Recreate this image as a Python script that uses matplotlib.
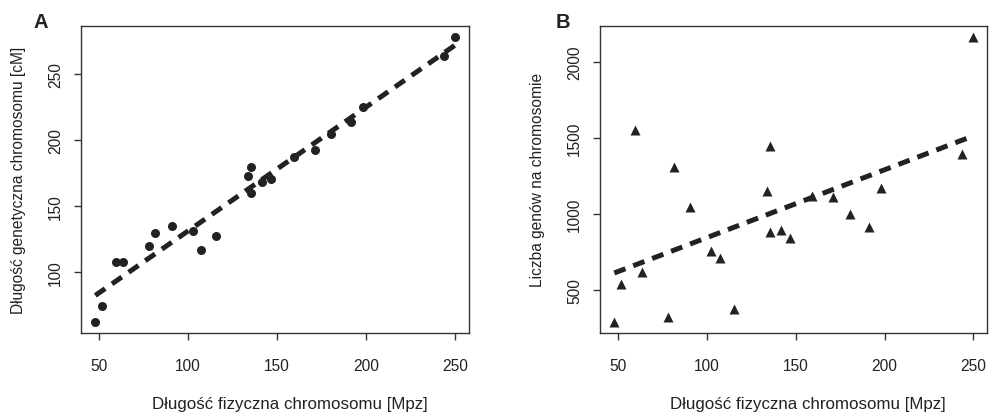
import matplotlib.pyplot as plt
import numpy as np

plt.rcParams["font.family"] = ["Liberation Sans", "DejaVu Sans"]
plt.rcParams["lines.scale_dashes"] = False

# chromosomes 1..22
dl_fiz = np.array([249.5, 243.3, 198.2, 191.2, 180.5, 171.3, 159.2, 146.7, 141.6, 135.5, 135.5,
                   133.9, 115.5, 107.5, 102.7, 90.9, 81.5, 78.4, 59.6, 63.5, 48.1, 51.8])
dl_gen = np.array([278.2, 263.9, 225.3, 214.2, 204.6, 192.7, 187.7, 170.6, 168.5, 160.0, 180.0,
                   173.0, 127.7, 117.0, 131.2, 135.0, 129.7, 120.0, 108.0, 108.0, 62.6, 74.3])
geny = np.array([2162, 1394, 1172, 916, 999, 1111, 1120, 844, 896, 883, 1448,
                 1152, 377, 710, 758, 1045, 1310, 325, 1551, 616, 292, 537])

xticks = [50, 100, 150, 200, 250]
yticks_a = [100, 150, 200, 250]
yticks_b = [500, 1000, 1500, 2000]
xlab = "Długość fizyczna chromosomu [Mpz]"
ylab_a = "Długość genetyczna chromosomu [cM]"
ylab_b = "Liczba genów na chromosomie"

INK = "#222222"
FRAME = "#333333"


def r_lim(v):
    # R-style axis range: data range widened by 4% on each side
    pad = 0.04 * (v.max() - v.min())
    return v.min() - pad, v.max() + pad


def panel(ax, x, y, marker, ms, yticks, ylab, letter, lx):
    ax.plot(x, y, marker, color=INK, ms=ms, ls="none", mec="none")
    k, b = np.polyfit(x, y, 1)
    xs = np.array([x.min(), x.max()])
    ax.plot(xs, k * xs + b, color=INK, lw=3.6, dashes=(8.6, 6.0), dash_capstyle="butt")
    ax.set_xlim(r_lim(x))
    ax.set_ylim(r_lim(y))
    ax.set_xticks(xticks)
    ax.set_yticks(yticks)
    for s in ax.spines.values():
        s.set_color(FRAME)
        s.set_linewidth(1.0)
    ax.tick_params(axis="both", length=5, width=1.0, color=FRAME, labelsize=11.2,
                   labelcolor=INK)
    ax.tick_params(axis="x", pad=13)
    ax.tick_params(axis="y", pad=8)
    for t in ax.get_yticklabels():
        t.set_rotation(90)
        t.set_va("center")
    ax.set_xlabel(xlab, fontsize=12.2, color=INK)
    ax.xaxis.set_label_coords(0.538, -0.228)
    ax.xaxis.label.set_va("center")
    ax.set_ylabel(ylab, fontsize=11.2, color=INK)
    ax.yaxis.set_label_coords(-0.162, 0.5)
    ax.yaxis.label.set_va("center")
    ax.text(lx, 1.015, letter, transform=ax.transAxes, fontsize=14.5, fontweight="bold",
            color=INK, ha="center", va="center")


fig = plt.figure(figsize=(9.91, 4.14), dpi=100)
ax_a = fig.add_axes([0.0817, 0.1932, 0.3915, 0.7423])
ax_b = fig.add_axes([0.6054, 0.1932, 0.3905, 0.7423])

panel(ax_a, dl_fiz, dl_gen, "o", 6.5, yticks_a, ylab_a, "A", -0.103)
panel(ax_b, dl_fiz, geny, "^", 6.8, yticks_b, ylab_b, "B", -0.095)

fig.savefig("out.png", dpi=100)
